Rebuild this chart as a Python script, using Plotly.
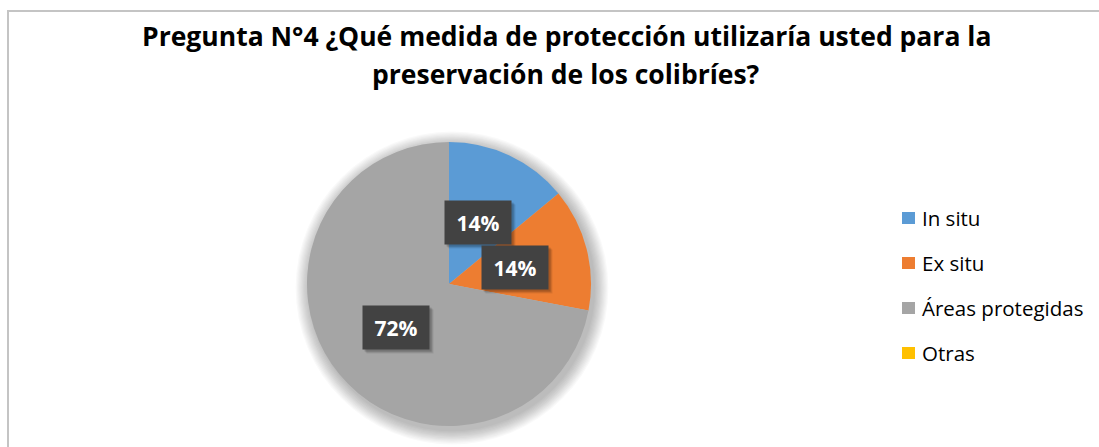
import math
import plotly.graph_objects as go

# Survey answers (share of respondents, %)
labels = ["In situ", "Ex situ", "Áreas protegidas", "Otras"]
values = [14, 14, 72, 0]
colors = ["#5B9BD5", "#ED7D31", "#A5A5A5", "#FFC000"]
title_lines = ["Pregunta N°4 ¿Qué medida de protección utilizaría usted para la",
               "preservación de los colibríes?"]

W, H = 1099, 447
FONT = "Open Sans"

# Pie placement in pixels (center and radius)
cx, cy, r = 449, 284, 142
dom_x = [(cx - r) / W, (cx + r) / W]
dom_y = [1 - (cy + r) / H, 1 - (cy - r) / H]

fig = go.Figure()
fig.add_trace(go.Pie(
    labels=labels, values=values, sort=False, direction="clockwise", rotation=0,
    marker=dict(colors=colors, line=dict(width=0)),
    textinfo="none", hoverinfo="label+percent", showlegend=False,
    domain=dict(x=dom_x, y=dom_y),
))

shapes = []
annotations = []

def px(x):
    return x / W

def py(y):
    return 1 - y / H

# Soft outer shadow of the pie
for k in range(12, 0, -1):
    rr = r + k * 1.2
    ox, oy = cx + 3, cy + 4
    shapes.append(dict(type="circle", xref="paper", yref="paper", layer="below",
                       x0=px(ox - rr), x1=px(ox + rr), y0=py(oy + rr), y1=py(oy - rr),
                       fillcolor="rgba(0,0,0,0.022)", line=dict(width=0)))

# Chart-area border
shapes.append(dict(type="rect", xref="paper", yref="paper", layer="below",
                   x0=px(8), x1=px(W + 20), y0=py(H + 20), y1=py(11),
                   fillcolor="rgba(0,0,0,0)", line=dict(color="#C4C4C4", width=2)))

# Percentage callouts placed at each slice's mid-angle
total = sum(values)
cum = 0.0
for lab, v in zip(labels, values):
    frac = v / total
    mid = (cum + frac / 2) * 2 * math.pi
    cum += frac
    if v == 0:
        continue
    d = 0.48 * r
    bx = cx + d * math.sin(mid)
    by = cy - d * math.cos(mid)
    txt = f"<b>{v}%</b>"
    # drop shadow
    for off, a in [(4, 0.08), (3, 0.11), (2, 0.14)]:
        annotations.append(dict(x=px(bx + off), y=py(by + off), xref="paper", yref="paper",
                                text=" ", showarrow=False, width=64, height=41,
                                bgcolor=f"rgba(0,0,0,{a})", font=dict(size=21, family=FONT),
                                xanchor="center", yanchor="middle"))
    annotations.append(dict(x=px(bx), y=py(by), xref="paper", yref="paper",
                            text=txt, showarrow=False, width=64, height=41,
                            bgcolor="#424242", font=dict(color="white", size=21, family=FONT),
                            xanchor="center", yanchor="middle"))

# Legend drawn as swatches with labels
leg_x, leg_y0, leg_dy = 902, 218, 45
for i, (lab, col) in enumerate(zip(labels, colors)):
    yy = leg_y0 + i * leg_dy
    shapes.append(dict(type="rect", xref="paper", yref="paper",
                       x0=px(leg_x), x1=px(leg_x + 13), y0=py(yy + 6), y1=py(yy - 6),
                       fillcolor=col, line=dict(width=0)))
    annotations.append(dict(x=px(leg_x + 18), y=py(yy), xref="paper", yref="paper",
                            text=lab, showarrow=False, xanchor="left", yanchor="middle",
                            font=dict(color="#000000", size=20.5, family=FONT)))

# Title, one annotation per line
for i, line in enumerate(title_lines):
    annotations.append(dict(x=px(566), y=py(16 + 38 * i), xref="paper", yref="paper",
                            text="<b>" + line + "</b>", showarrow=False,
                            xanchor="center", yanchor="top", align="center",
                            font=dict(color="#000000", size=26.5, family=FONT)))

fig.update_layout(
    width=W, height=H, margin=dict(l=0, r=0, t=0, b=0),
    paper_bgcolor="white", plot_bgcolor="white",
    shapes=shapes, annotations=annotations, showlegend=False,
)

fig.write_html("out.html")
